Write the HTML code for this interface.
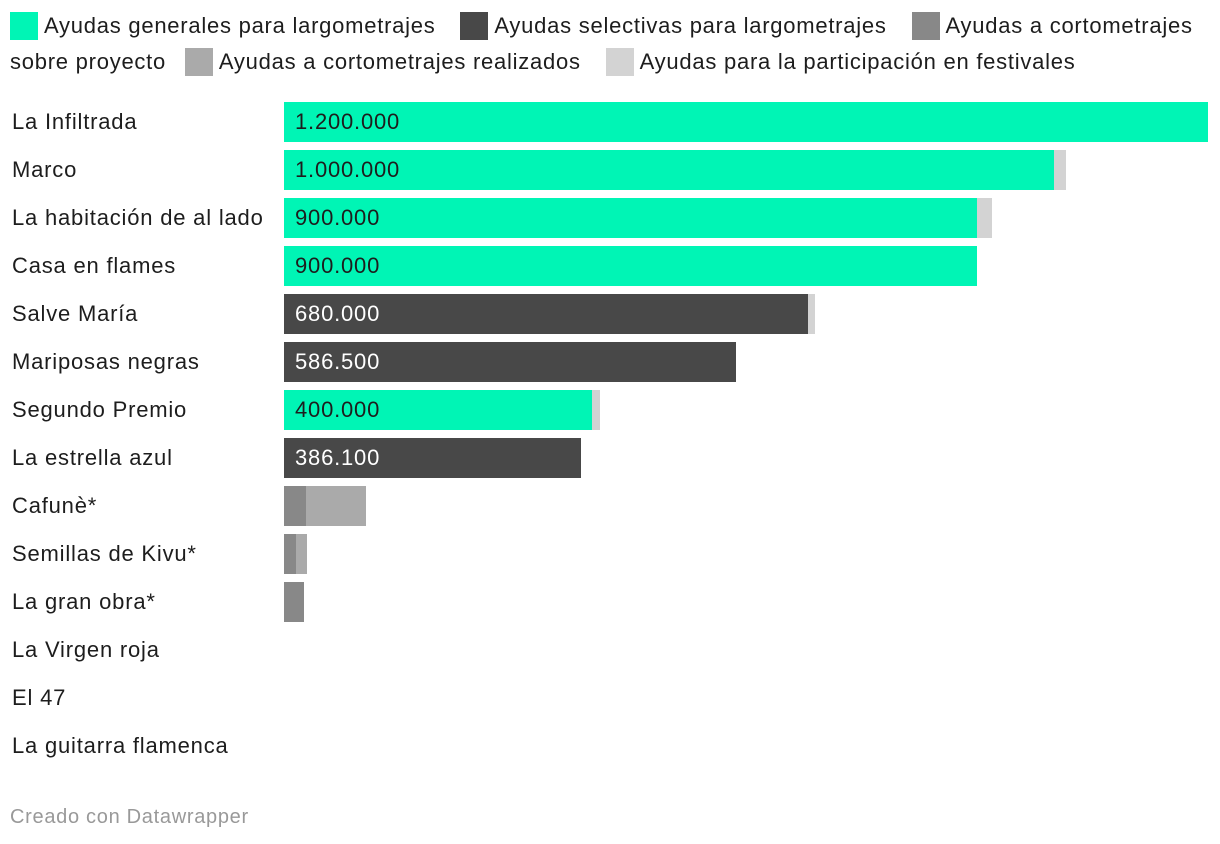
<!DOCTYPE html>
<html><head><meta charset="utf-8"><style>
body{margin:0;width:1220px;height:844px;background:#fff;font-family:"Liberation Sans",sans-serif;color:#1d1d1d;overflow:hidden;position:relative}
.leg{position:absolute;left:10px;top:8px;width:1205px;font-size:22px;line-height:36px;letter-spacing:0.75px}
.li{display:inline-block;margin-right:18px;white-space:nowrap}
.sw{display:inline-block;width:28px;height:28px;vertical-align:-7px;margin-right:6px}
.lab{position:absolute;left:12px;font-size:22px;line-height:40px;letter-spacing:0.8px}
.bar{position:absolute;height:40px}
.val{position:absolute;font-size:22px;line-height:40px;letter-spacing:0.8px}
.foot{position:absolute;left:10px;top:806px;font-size:20px;color:#999;letter-spacing:0.7px}
</style></head><body>
<div class="leg">
<span class="li"><span class="sw" style="background:#00f5b5"></span>Ayudas generales para largometrajes</span>
<span class="li"><span class="sw" style="background:#484848"></span>Ayudas selectivas para largometrajes</span>
<span class="li" style="margin-right:0;white-space:normal;display:inline"><span class="sw" style="background:#888"></span>Ayudas a cortometrajes sobre proyecto</span>
<span class="li" style="margin-left:12px"><span class="sw" style="background:#aaa"></span>Ayudas a cortometrajes realizados</span>
<span class="li"><span class="sw" style="background:#d3d3d3"></span>Ayudas para la participación en festivales</span>
</div>
<div id="chart"></div>
<div class="foot">Creado con Datawrapper</div>
<script>
const categories=["La Infiltrada","Marco","La habitación de al lado","Casa en flames","Salve María","Mariposas negras","Segundo Premio","La estrella azul","Cafunè*","Semillas de Kivu*","La gran obra*","La Virgen roja","El 47","La guitarra flamenca"];
const generales=[1200000,1000000,900000,900000,0,0,400000,0,0,0,0,0,0,0];
const selectivas=[0,0,0,0,680000,586500,0,386100,0,0,0,0,0,0];
const cortoProyecto=[0,0,0,0,0,0,0,0,28000,15000,26000,0,0,0];
const cortoRealizados=[0,0,0,0,0,0,0,0,78000,15000,0,0,0,0];
const festivales=[0,15000,20000,0,10000,0,10000,0,0,0,0,0,0,0];
const series=[generales,selectivas,cortoProyecto,cortoRealizados,festivales];
const colors=["#00f5b5","#484848","#888","#aaa","#d3d3d3"];
const names=["generales","selectivas","corto-proyecto","corto-realizados","festivales"];
const x0=284,maxV=1200000,wid=924;
const xs=v=>v/maxV*wid;
const ys=i=>102+i*48;
const c=document.getElementById('chart');
const fmt=v=>String(v).replace(/\B(?=(\d{3})+(?!\d))/g,'.');
categories.forEach((cat,i)=>{
 const l=document.createElement('div');l.className='lab';l.style.top=ys(i)+'px';l.textContent=cat;
 
 
 c.appendChild(l);
 let acc=0;
 series.forEach((s,k)=>{
  const v=s[i];if(!v)return;
  const b=document.createElement('div');b.className='bar';
  b.style.left=(x0+xs(acc))+'px';b.style.top=ys(i)+'px';b.style.width=xs(v)+'px';b.style.background=colors[k];
  
  
  c.appendChild(b);acc+=v;
 });
 const main=Math.max(generales[i],selectivas[i]);
 if(main>100000){
  const t=document.createElement('div');t.className='val';t.style.left=(x0+11)+'px';t.style.top=ys(i)+'px';
  t.style.color=selectivas[i]>0?'#fff':'#1d1d1d';t.textContent=fmt(main);
  
  
  c.appendChild(t);
 }
});
</script>
</body></html>
